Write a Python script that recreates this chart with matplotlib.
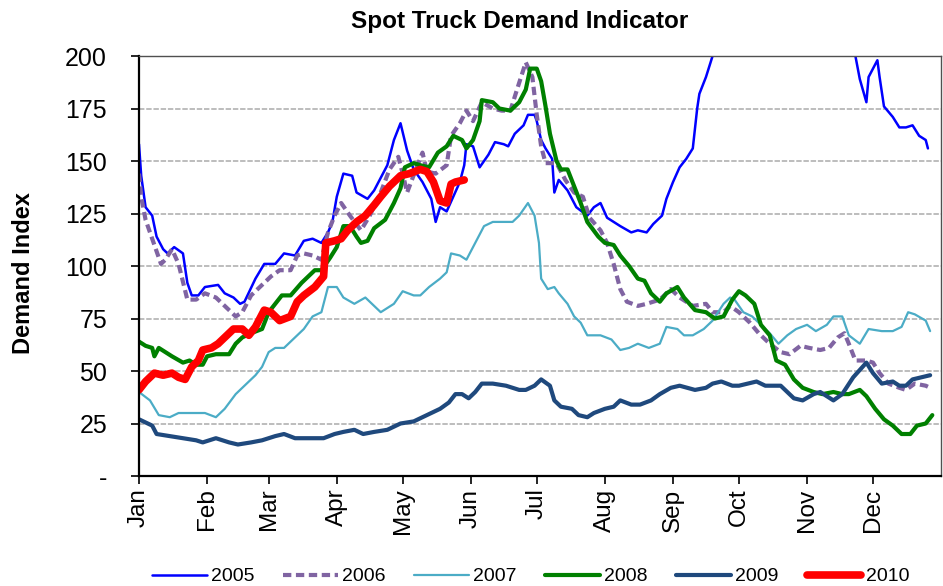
import matplotlib
matplotlib.use("Agg")
import matplotlib.pyplot as plt

plt.rcParams['font.family'] = ['Liberation Sans', 'DejaVu Sans']

# month start (day of year) and labels
month_days = [0, 31, 59, 90, 120, 151, 181, 212, 243, 273, 304, 334]
month_labels = ['Jan', 'Feb', 'Mar', 'Apr', 'May', 'Jun',
                'Jul', 'Aug', 'Sep', 'Oct', 'Nov', 'Dec']

# 2005 (goes off the top of the chart in Sep-Nov, those values are estimated)
days_2005 = [0, 1, 3, 6, 8, 11, 13, 16, 20, 22, 24, 27, 30, 36, 39, 43, 46, 48, 53, 57,
             62, 66, 71, 75, 79, 83, 86, 88, 90, 93, 97, 99, 104, 107, 113, 116, 119, 122, 125, 129,
             133, 135, 137, 140, 146, 148, 149, 152, 155, 159, 162, 166, 168, 171, 175, 177, 180, 181, 183, 185,
             188, 189, 191, 195, 199, 204, 207, 210, 213, 219, 224, 227, 231, 234, 238, 240, 243, 246, 249, 252,
             254, 255, 258, 261, 268, 280, 295, 310, 320, 326, 328, 331, 332, 336, 337, 339, 343, 346, 349, 352,
             355, 358, 359]
vals_2005 = [158, 143, 128, 124, 114, 108, 106, 109, 106, 92, 86, 86, 90, 91, 87, 85, 82, 83, 94, 101,
             101, 106, 105, 112, 113, 111, 116, 121, 133, 144, 143, 135, 132, 136, 148, 160, 168, 155, 146, 140,
             132, 121, 128, 126, 140, 148, 158, 157, 147, 153, 159, 158, 157, 163, 167, 172, 172, 169, 160, 156,
             151, 135, 141, 136, 128, 124, 128, 130, 123, 119, 116, 117, 116, 120, 124, 132, 140, 147, 151, 156,
             175, 182, 190, 200, 215, 232, 238, 228, 212, 200, 189, 178, 190, 198, 190, 176, 171, 166, 166, 167,
             162, 160, 156]

days_2006 = [0, 1, 3, 6, 10, 12, 15, 18, 22, 26, 30, 35, 39, 44, 47, 51, 55, 60, 64, 69,
             72, 75, 79, 83, 86, 89, 92, 96, 101, 105, 110, 114, 118, 120, 122, 126, 129, 131, 135, 140,
             142, 146, 149, 152, 156, 161, 165, 169, 172, 176, 179, 181, 183, 185, 190, 194, 198, 202, 205, 210,
             213, 216, 219, 222, 227, 231, 237, 242, 246, 252, 258, 261, 266, 269, 273, 278, 282, 287, 292, 296,
             301, 305, 310, 314, 318, 321, 323, 326, 331, 334, 337, 341, 346, 349, 353, 358, 360]
vals_2006 = [144, 133, 122, 113, 101, 103, 108, 101, 84, 84, 87, 85, 81, 76, 78, 86, 90, 95, 98, 98,
             105, 106, 105, 103, 116, 124, 130, 124, 117, 124, 135, 146, 152, 144, 135, 146, 154, 145, 144, 148,
             162, 168, 174, 169, 178, 175, 174, 174, 184, 197, 190, 172, 157, 149, 149, 141, 135, 133, 123, 117,
             111, 101, 89, 83, 81, 82, 84, 89, 85, 81, 82, 78, 78, 81, 78, 73, 68, 63, 59, 58,
             62, 61, 60, 61, 66, 68, 63, 55, 55, 54, 49, 44, 42, 41, 44, 43, 42]

days_2007 = [0, 5, 9, 14, 18, 26, 30, 35, 39, 44, 48, 53, 56, 59, 62, 66, 71, 75, 79, 83,
             86, 90, 93, 98, 103, 107, 110, 116, 120, 125, 128, 132, 137, 140, 142, 146, 149, 153, 157, 161,
             165, 170, 173, 177, 180, 182, 183, 186, 189, 191, 195, 198, 201, 204, 210, 215, 219, 223, 227, 232,
             237, 240, 245, 248, 252, 257, 261, 266, 269, 271, 275, 279, 282, 287, 291, 295, 299, 304, 308, 313,
             316, 320, 323, 328, 332, 338, 343, 347, 350, 353, 358, 360]
vals_2007 = [40, 36, 29, 28, 30, 30, 30, 28, 32, 39, 43, 48, 52, 59, 61, 61, 66, 70, 76, 78,
             90, 90, 85, 82, 85, 81, 78, 82, 88, 86, 86, 90, 94, 97, 106, 105, 103, 111, 119, 121,
             121, 121, 124, 130, 124, 111, 94, 89, 90, 87, 82, 76, 73, 67, 67, 65, 60, 61, 63, 61,
             63, 71, 70, 67, 67, 70, 74, 82, 85, 84, 78, 76, 73, 68, 63, 67, 70, 72, 69, 72,
             76, 76, 67, 63, 70, 69, 69, 71, 78, 77, 74, 69]

days_2008 = [0, 3, 6, 7, 9, 12, 15, 20, 23, 26, 29, 31, 35, 41, 44, 47, 51, 56, 59, 62,
             65, 69, 74, 78, 80, 83, 87, 90, 93, 96, 99, 101, 104, 107, 112, 116, 119, 121, 125, 128,
             132, 136, 140, 143, 147, 149, 152, 155, 156, 161, 164, 169, 173, 176, 178, 181, 183, 185, 187, 190,
             192, 195, 198, 201, 204, 209, 212, 216, 219, 223, 227, 230, 233, 237, 240, 245, 248, 253, 258, 262,
             266, 270, 273, 276, 280, 283, 287, 290, 294, 298, 302, 307, 311, 316, 320, 323, 328, 331, 335, 339,
             343, 347, 351, 354, 358, 361]
vals_2008 = [64, 62, 61, 57, 61, 59, 57, 54, 55, 53, 53, 57, 58, 58, 63, 66, 68, 70, 78, 82,
             86, 86, 92, 96, 98, 98, 104, 109, 119, 119, 114, 111, 112, 118, 122, 130, 137, 147, 149, 148,
             147, 154, 157, 162, 160, 156, 160, 169, 179, 178, 175, 174, 178, 184, 194, 194, 188, 176, 163, 150,
             146, 146, 138, 130, 121, 114, 111, 110, 105, 100, 94, 93, 87, 83, 87, 90, 85, 79, 78, 75,
             76, 84, 88, 86, 82, 72, 67, 55, 53, 46, 42, 40, 39, 40, 39, 39, 41, 38, 32, 27,
             24, 20, 20, 24, 25, 29]

days_2009 = [0, 6, 8, 14, 20, 26, 29, 35, 41, 45, 51, 56, 62, 66, 71, 78, 84, 89, 93, 98,
             102, 107, 113, 119, 125, 131, 137, 141, 144, 147, 150, 153, 156, 161, 167, 173, 176, 180, 183, 187,
             189, 192, 197, 200, 204, 207, 212, 216, 219, 224, 228, 233, 237, 242, 246, 253, 258, 261, 265, 270,
             273, 277, 281, 285, 289, 292, 295, 298, 302, 307, 310, 313, 316, 320, 325, 331, 334, 338, 343, 346,
             349, 352, 356, 360]
vals_2009 = [27, 24, 20, 19, 18, 17, 16, 18, 16, 15, 16, 17, 19, 20, 18, 18, 18, 20, 21, 22,
             20, 21, 22, 25, 26, 29, 32, 35, 39, 39, 37, 40, 44, 44, 43, 41, 41, 43, 46, 43,
             36, 33, 32, 29, 28, 30, 32, 33, 36, 34, 34, 36, 39, 42, 43, 41, 42, 44, 45, 43,
             43, 44, 45, 43, 43, 43, 40, 37, 36, 39, 40, 38, 36, 39, 47, 54, 49, 44, 45, 43,
             43, 46, 47, 48]

days_2010 = [0, 3, 7, 11, 15, 18, 21, 24, 27, 29, 33, 36, 39, 43, 47, 50, 53, 57, 60, 64,
             69, 72, 75, 80, 84, 85, 89, 92, 95, 99, 103, 107, 110, 114, 119, 123, 128, 131, 134, 137,
             140, 142, 144, 148]
vals_2010 = [41, 45, 49, 48, 49, 47, 46, 52, 55, 60, 61, 63, 66, 70, 70, 67, 71, 79, 78, 74,
             76, 83, 86, 90, 95, 111, 112, 113, 117, 121, 124, 129, 133, 138, 143, 144, 146, 145, 140, 131,
             130, 139, 140, 141]

fig = plt.figure(figsize=(9.43, 5.86), dpi=100)
ax = fig.add_axes([0.1474, 0.1877, 0.8506, 0.7167])

common = dict(solid_joinstyle='round', solid_capstyle='round')
ax.plot(days_2005, vals_2005, color='#0000FF', lw=1.8, label='2005', **common)
ax.plot(days_2006, vals_2006, color='#8064A2', lw=3, label='2006',
        linestyle=(0, (2, 1.1)), dash_capstyle='butt')
ax.plot(days_2007, vals_2007, color='#4BACC6', lw=1.6, label='2007', **common)
ax.plot(days_2008, vals_2008, color='#008000', lw=3, label='2008', **common)
ax.plot(days_2009, vals_2009, color='#1F497D', lw=3, label='2009', **common)
ax.plot(days_2010, vals_2010, color='#FF0000', lw=5.5, label='2010', **common)

ax.set_xlim(0, 365)
ax.set_ylim(0, 200)
ax.set_yticks(range(0, 201, 25))
ax.set_yticklabels(['-'] + [str(v) for v in range(25, 201, 25)])
ax.set_xticks(month_days)
ax.set_xticklabels(month_labels, rotation=90, va='top', ha='center')

ax.grid(axis='y', color='#b8b8b8', linestyle=(0, (3, 1)), lw=1.3)
ax.set_axisbelow(True)

ax.tick_params(axis='y', direction='out', length=6, width=1.2, pad=17, labelsize=18)
ax.tick_params(axis='x', direction='out', length=6, width=1.2, pad=3, labelsize=17.5)

for side in ['left', 'bottom']:
    ax.spines[side].set_linewidth(1.6)
    ax.spines[side].set_color('black')
for side in ['top', 'right']:
    ax.spines[side].set_linewidth(1)
    ax.spines[side].set_color('#505050')

fig.text(0.0245, 0.534, 'Demand Index', rotation=90, ha='center', va='center',
         fontsize=17, fontweight='bold')
fig.text(0.551, 0.963, 'Spot Truck Demand Indicator', ha='center', va='center',
         fontsize=17.5, fontweight='bold')

fig.legend(loc='center', bbox_to_anchor=(0.563, 0.016), ncol=6, frameon=False,
           fontsize=14, handlelength=2.8, handletextpad=0.25, columnspacing=1.45)

fig.savefig('out.png', dpi=100)
